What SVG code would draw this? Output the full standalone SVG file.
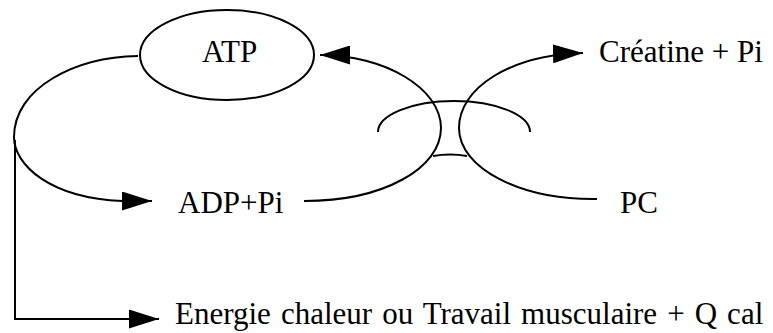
<svg xmlns="http://www.w3.org/2000/svg" width="773" height="333" viewBox="0 0 773 333">
<style>
.ln{fill:none;stroke:#000;stroke-width:2}
.t{font-family:"Liberation Serif","Times New Roman",Times,serif;font-size:31px;fill:#000}
</style>
<defs>
<marker id="ah" markerUnits="userSpaceOnUse" markerWidth="30" markerHeight="19" refX="30" refY="9.5" orient="auto">
<path d="M0,0 L30,9.5 L0,19 z" fill="#000"/>
</marker>
</defs>
<rect width="773" height="333" fill="#fff"/>
<g id="connectors">
<path class="ln" d="M138,56 C75,57 14,88 14,137 C14,165 50,198 122,201 L152,201" marker-end="url(#ah)"/>
<path class="ln" d="M15,140 L15,319 L159,319" marker-end="url(#ah)"/>
<path class="ln" d="M304,201 C384,201 441,168 441,128 C441,88 384,55 320,55" marker-end="url(#ah)"/>
<path class="ln" d="M597,199 C520,200 459,168 459,128 C459,88 510,55 583,53" marker-end="url(#ah)"/>
<path class="ln" d="M378,132 C378,115 412,101 454,101 C496,101 530,115 530,132"/>
<path class="ln" d="M433,156 Q450,153 467,156"/>
</g>
<g id="atp">
<ellipse class="ln" cx="227" cy="55" rx="87" ry="45"/>
<text class="t" x="202" y="62">ATP</text>
</g>
<g id="creatine"><text class="t" x="599" y="62">Créatine + Pi</text></g>
<g id="adp"><text class="t" x="178" y="213">ADP+Pi</text></g>
<g id="pc"><text class="t" x="620" y="213">PC</text></g>
<g id="energie"><text class="t" x="175" y="324" word-spacing="2.3">Energie chaleur ou Travail musculaire + Q cal</text></g>
</svg>
